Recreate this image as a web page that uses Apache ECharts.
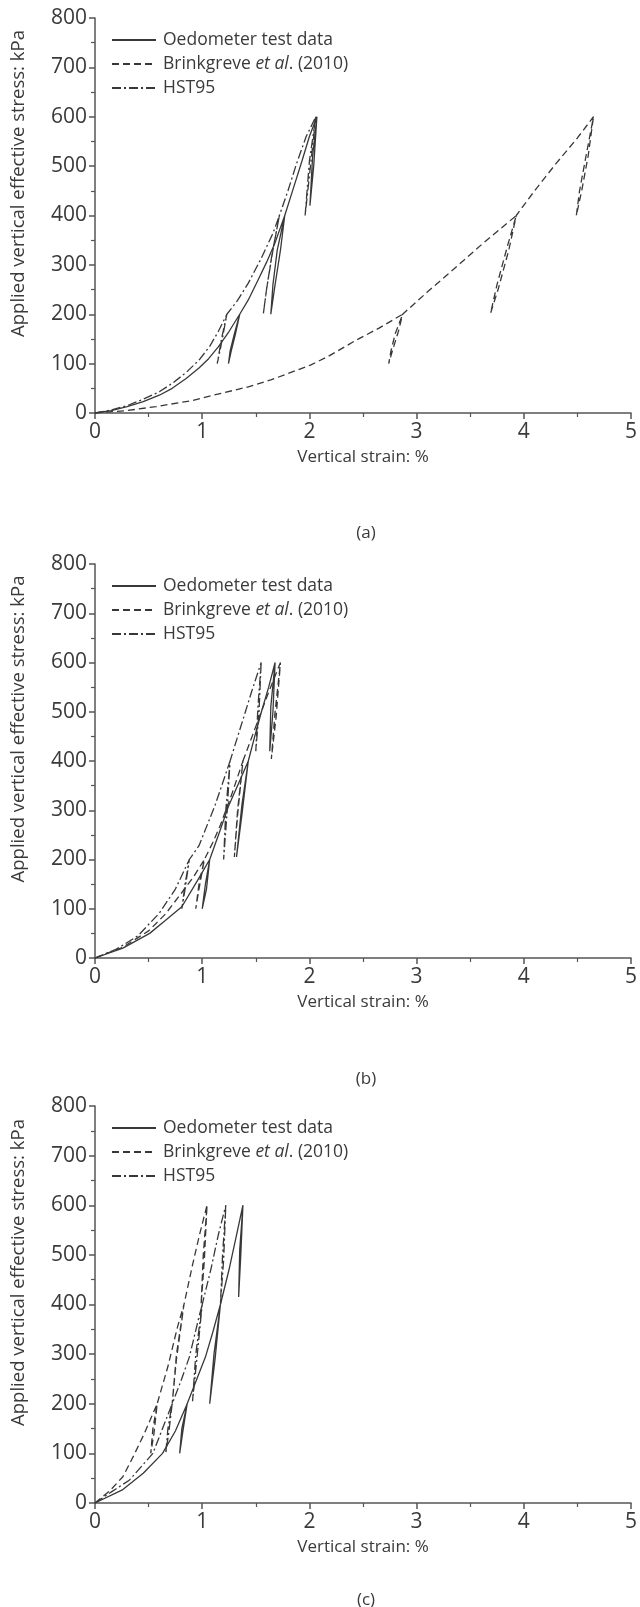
<!DOCTYPE html>
<html>
<head>
<meta charset="utf-8">
<script src="https://cdn.jsdelivr.net/npm/echarts@6/dist/echarts.min.js"></script>
<style>
  html, body { margin: 0; padding: 0; background: #fff; }
  #chart { width: 640px; height: 1607px; }
</style>
</head>
<body>
<div id="chart"></div>
<script>
// names and labels
const seriesNames = ['Oedometer test data', 'Brinkgreve et al. (2010)', 'HST95'];
const panelLabels = ['(a)', '(b)', '(c)'];
const xTitle = 'Vertical strain: %';
const yTitle = 'Applied vertical effective stress: kPa';
const strainRange = [0, 5, 1];     // min, max, interval
const stressRange = [0, 800, 100];

// panel (a) : [strain %, stress kPa]
const oedometerA = [
  [0, 0], [0.15, 5], [0.3, 13], [0.45, 23], [0.6, 36], [0.72, 50], [0.85, 70], [0.97, 91],
  [1.06, 110], [1.15, 134], [1.25, 165], [1.35, 200],
  [1.3, 160], [1.26, 125], [1.245, 100], [1.27, 125], [1.31, 160], [1.35, 200],
  [1.43, 229], [1.52, 269], [1.6, 305], [1.68, 345], [1.77, 400],
  [1.7, 330], [1.66, 260], [1.64, 200], [1.68, 260], [1.73, 330], [1.77, 400],
  [1.85, 455], [1.93, 510], [2.0, 560], [2.07, 600],
  [2.03, 520], [2.005, 420], [2.04, 500], [2.07, 600]
];
const brinkgreveA = [
  [0, 0], [0.3, 5], [0.57, 13], [0.9, 25], [1.18, 40], [1.43, 53], [1.64, 67], [2.01, 97],
  [2.17, 114], [2.44, 148], [2.65, 172], [2.87, 200],
  [2.8, 160], [2.76, 125], [2.74, 100], [2.78, 130], [2.83, 165], [2.87, 200],
  [3.1, 245], [3.35, 292], [3.6, 340], [3.93, 400],
  [3.85, 340], [3.75, 260], [3.69, 202], [3.76, 250], [3.86, 330], [3.93, 400],
  [4.1, 450], [4.3, 505], [4.5, 557], [4.65, 600],
  [4.58, 520], [4.52, 450], [4.49, 400], [4.54, 450], [4.6, 520], [4.65, 600]
];
const hst95A = [
  [0, 0], [0.15, 6], [0.3, 15], [0.45, 28], [0.6, 43], [0.72, 60], [0.85, 82], [0.97, 107],
  [1.07, 135], [1.15, 165], [1.23, 200],
  [1.18, 150], [1.14, 100], [1.17, 130], [1.2, 165], [1.23, 200],
  [1.33, 228], [1.43, 263], [1.55, 313], [1.66, 364], [1.72, 400],
  [1.65, 320], [1.6, 250], [1.57, 200], [1.6, 250], [1.66, 330], [1.72, 400],
  [1.8, 450], [1.88, 505], [1.97, 560], [2.06, 600],
  [2.0, 510], [1.96, 400], [2.0, 480], [2.06, 600]
];

// panel (b)
const oedometerB = [
  [0, 0], [0.26, 20], [0.51, 50], [0.65, 75], [0.81, 104], [0.95, 155], [1.07, 200],
  [1.03, 150], [1.0, 100], [1.04, 140], [1.07, 200],
  [1.16, 255], [1.245, 308], [1.34, 355], [1.43, 400],
  [1.37, 310], [1.32, 205], [1.37, 290], [1.43, 400],
  [1.49, 450], [1.55, 498], [1.62, 550], [1.68, 600],
  [1.64, 510], [1.63, 420], [1.66, 500], [1.68, 600]
];
const brinkgreveB = [
  [0, 0], [0.26, 22], [0.5, 55], [0.66, 90], [0.8, 130], [0.92, 165], [1.02, 200],
  [0.97, 150], [0.94, 100], [0.97, 140], [1.02, 200],
  [1.1, 235], [1.17, 270], [1.28, 335], [1.38, 400],
  [1.33, 300], [1.3, 205], [1.33, 290], [1.38, 400],
  [1.5, 470], [1.62, 540], [1.73, 600],
  [1.68, 500], [1.645, 404], [1.69, 490], [1.73, 600]
];
const hst95B = [
  [0, 0], [0.2, 18], [0.4, 45], [0.6, 91], [0.75, 140], [0.88, 200],
  [0.84, 150], [0.81, 100], [0.84, 140], [0.88, 200],
  [0.97, 228], [1.12, 310], [1.26, 400],
  [1.22, 300], [1.2, 200], [1.23, 290], [1.26, 400],
  [1.36, 470], [1.46, 540], [1.55, 600],
  [1.52, 510], [1.5, 420], [1.53, 500], [1.55, 600]
];

// panel (c)
const oedometerC = [
  [0, 0], [0.26, 27], [0.45, 60], [0.63, 100], [0.75, 145], [0.86, 200],
  [0.81, 150], [0.79, 100], [0.82, 145], [0.86, 200],
  [0.95, 250], [1.03, 294], [1.1, 345], [1.17, 400],
  [1.11, 300], [1.07, 200], [1.12, 290], [1.17, 400],
  [1.25, 470], [1.32, 540], [1.38, 600],
  [1.35, 510], [1.34, 415], [1.36, 500], [1.38, 600]
];
const brinkgreveC = [
  [0, 0], [0.14, 25], [0.26, 53], [0.36, 95], [0.46, 140], [0.58, 200],
  [0.54, 150], [0.52, 100], [0.55, 140], [0.58, 200],
  [0.68, 275], [0.77, 355], [0.83, 400],
  [0.76, 300], [0.72, 200], [0.76, 290], [0.83, 400],
  [0.91, 480], [0.98, 545], [1.045, 600],
  [1.01, 500], [0.99, 400], [1.02, 490], [1.045, 600]
];
const hst95C = [
  [0, 0], [0.15, 22], [0.32, 46], [0.54, 100], [0.63, 150], [0.72, 200],
  [0.68, 150], [0.66, 100], [0.69, 145], [0.72, 200],
  [0.8, 245], [0.88, 294], [0.97, 375], [1.0, 400],
  [0.94, 300], [0.91, 205], [0.95, 290], [1.0, 400],
  [1.08, 470], [1.15, 540], [1.22, 600],
  [1.19, 500], [1.17, 400], [1.2, 490], [1.22, 600]
];

const panels = [
  [oedometerA, brinkgreveA, hst95A],
  [oedometerB, brinkgreveB, hst95B],
  [oedometerC, brinkgreveC, hst95C]
];

// layout
const gridTops = [18, 564, 1106];
const gridHeights = [395, 394, 397];
const panelLabelY = [533, 1079, 1600];
const font = '"Open Sans", "Noto Sans", sans-serif';
const ink = '#383838';
const axisInk = '#555';
const textInk = '#3a3a3a';
const lineTypes = ['solid', [7, 4], [9, 3, 2, 3]];

const chart = echarts.init(document.getElementById('chart'));

const grid = [], xAxis = [], yAxis = [], series = [], legend = [], graphic = [];

panels.forEach((sets, i) => {
  grid.push({ left: 95, right: 3, top: gridTops[i], height: gridHeights[i], containLabel: false });

  xAxis.push({
    type: 'value', gridIndex: i,
    min: strainRange[0], max: strainRange[1], interval: strainRange[2],
    name: xTitle, nameLocation: 'middle', nameGap: 36,
    nameTextStyle: { fontFamily: font, fontSize: 17, color: textInk },
    axisLine: { onZero: false, lineStyle: { color: axisInk, width: 1.5 } },
    axisTick: { length: 6, lineStyle: { color: axisInk, width: 1.5 } },
    minorTick: { show: true, splitNumber: 2, length: 4, lineStyle: { color: axisInk, width: 1.2 } },
    axisLabel: { margin: 9, fontFamily: font, fontSize: 21, color: textInk },
    splitLine: { show: false }
  });

  yAxis.push({
    type: 'value', gridIndex: i,
    min: stressRange[0], max: stressRange[1], interval: stressRange[2],
    axisLine: { show: true, onZero: false, lineStyle: { color: axisInk, width: 1.5 } },
    axisTick: { show: true, length: 6, lineStyle: { color: axisInk, width: 1.5 } },
    minorTick: { show: true, splitNumber: 2, length: 4, lineStyle: { color: axisInk, width: 1.2 } },
    axisLabel: { margin: 8, fontFamily: font, fontSize: 21, color: textInk },
    splitLine: { show: false }
  });

  sets.forEach((data, k) => {
    series.push({
      name: seriesNames[k],
      type: 'line',
      xAxisIndex: i, yAxisIndex: i,
      data: data,
      symbol: 'none',
      smooth: false,
      lineStyle: { color: ink, width: 1.3, type: lineTypes[k] },
      itemStyle: { color: ink },
      animation: false
    });
  });

  legend.push({
    orient: 'vertical',
    left: 106, top: gridTops[i] + 7,
    itemWidth: 44, itemHeight: 12, itemGap: 4,
    selectedMode: false,
    data: seriesNames,
    itemStyle: { opacity: 0 },
    lineStyle: { opacity: 1 },
    textStyle: {
      fontFamily: font, fontSize: 17.5, color: textInk, lineHeight: 20, padding: [0, 0, 0, 2],
      rich: {
        n: { fontFamily: font, fontSize: 17.5, color: textInk, lineHeight: 20 },
        i: { fontFamily: font, fontSize: 17.5, color: textInk, fontStyle: 'italic', lineHeight: 20 }
      }
    },
    formatter: name => name === seriesNames[1] ? '{n|Brinkgreve }{i|et al}{n|. (2010)}' : name
  });

  graphic.push({
    type: 'text',
    x: 19, y: gridTops[i] + gridHeights[i] / 2 - 32,
    rotation: Math.PI / 2,
    style: {
      text: yTitle, fill: textInk,
      font: '18.5px ' + font,
      textAlign: 'center', textVerticalAlign: 'middle'
    }
  });
  graphic.push({
    type: 'text',
    x: 366, y: panelLabelY[i],
    style: {
      text: panelLabels[i], fill: textInk,
      font: '17px ' + font,
      textAlign: 'center', textVerticalAlign: 'middle'
    }
  });
});

chart.setOption({
  backgroundColor: '#fff',
  animation: false,
  grid, xAxis, yAxis, series, legend, graphic
});
</script>
</body>
</html>
